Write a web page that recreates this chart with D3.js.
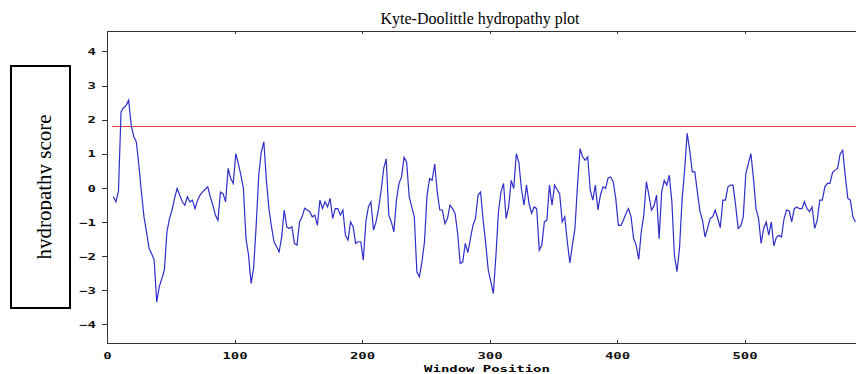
<!DOCTYPE html>
<html>
<head>
<meta charset="utf-8">
<script src="https://cdn.jsdelivr.net/npm/d3@7"></script>
<style>
  body { margin: 0; background: #fff; }
  svg { display: block; }
</style>
</head>
<body>
<div id="chart"></div>
<script>
const title = "Kyte-Doolittle hydropathy plot";
const yLabel = "hydropathy score";
const xLabel = "Window Position";

// one score every positionStep residues, starting at firstPosition
const firstPosition = 5;
const positionStep = 2;
const scores = [
  -0.26, -0.41, -0.1, 2.23, 2.35, 2.42, 2.57, 1.84, 1.5, 1.35,      // 5
  0.66, -0.12, -0.85, -1.29, -1.78, -1.93, -2.12, -3.35, -2.9, -2.66, // 25
  -2.41, -1.29, -0.9, -0.65, -0.31, -0.02, -0.21, -0.41, -0.51, -0.26, // 45
  -0.41, -0.36, -0.61, -0.36, -0.21, -0.12, -0.04, 0.03, -0.26, -0.51, // 65
  -0.8, -0.95, -0.12, -0.17, -0.41, 0.57, 0.27, 0.13, 1.0, 0.71,     // 85
  0.37, -0.02, -1.49, -1.97, -2.8, -2.35, -1.1, 0.37, 1.05, 1.35,    // 105
  0.22, -0.61, -1.14, -1.58, -1.73, -1.88, -1.44, -0.65, -1.15, -1.19, // 125
  -1.14, -1.63, -1.68, -1.0, -0.85, -0.6, -0.65, -0.7, -0.85, -0.8,  // 145
  -1.1, -0.36, -0.61, -0.41, -0.56, -0.31, -0.9, -0.61, -0.61, -0.8, // 165
  -0.65, -1.39, -1.53, -1.0, -1.14, -1.63, -1.58, -1.58, -2.12, -1.0, // 185
  -0.56, -0.41, -1.24, -1.0, -0.61, -0.07, 0.57, 0.85, -0.8, -1.0,   // 205
  -1.29, -0.36, 0.13, 0.32, 0.9, 0.75, -0.26, -0.56, -0.85, -2.46,   // 225
  -2.61, -2.17, -1.58, -0.22, 0.27, 0.22, 0.7, -0.12, -0.65, -0.65,  // 245
  -1.05, -0.9, -0.51, -0.61, -0.75, -1.34, -2.22, -2.17, -1.63, -1.9, // 265
  -1.49, -1.1, -0.9, -0.21, -0.12, -0.95, -1.63, -2.41, -2.75, -3.1, // 285
  -2.0, -0.7, -0.12, 0.13, -0.9, -0.56, 0.22, -0.02, 1.0, 0.75,      // 305
  -0.02, -0.51, 0.08, -0.46, -0.75, -0.56, -0.61, -1.83, -1.68, -1.0, // 325
  -0.95, 0.08, -0.51, 0.08, -0.05, -0.17, -1.0, -0.85, -1.58, -2.2,  // 345
  -1.68, -1.19, 0.08, 1.15, 0.91, 0.81, 0.91, -0.07, -0.36, 0.08,    // 365
  -0.65, -0.21, 0.03, -0.02, 0.29, 0.32, 0.18, -0.31, -1.1, -1.1,    // 385
  -0.95, -0.75, -0.61, -0.85, -1.49, -1.68, -2.1, -1.29, -0.8, 0.18, // 405
  -0.21, -0.65, -0.53, -0.21, -1.49, -0.12, 0.22, 0.08, 0.37, -0.41, // 425
  -1.97, -2.46, -1.78, -0.36, 0.52, 1.6, 1.1, 0.47, 0.47, -0.12,     // 445
  -0.68, -0.95, -1.44, -1.19, -0.9, -0.85, -0.65, -0.9, -1.17, -0.36, // 465
  -0.36, 0.03, 0.08, 0.08, -0.51, -1.19, -1.12, -0.85, 0.42, 0.71,   // 485
  1.0, 0.27, -0.61, -0.9, -1.63, -1.19, -1.0, -1.39, -1.0, -1.7,     // 505
  -1.45, -1.39, -1.44, -0.9, -0.65, -0.68, -1.0, -0.61, -0.56, -0.61, // 525
  -0.61, -0.41, -0.61, -0.7, -0.56, -1.19, -0.95, -0.36, -0.36, 0.03, // 545
  0.13, 0.13, 0.45, 0.52, 0.57, 1.0, 1.1, 0.35, -0.31, -0.36,        // 565
  -0.85, -1.0                                                        // 585
];
const threshold = 1.8;
const xTicks = [0, 100, 200, 300, 400, 500];
const yTicks = [-4, -3, -2, -1, 0, 1, 2, 3, 4];

const width = 856, height = 374;
const svg = d3.select('#chart').append('svg')
    .attr('width', width)
    .attr('height', height);

const x = d3.scaleLinear().domain([0, 590]).range([107, 859.3]);
const y = d3.scaleLinear().domain([-4.55, 4.6]).range([343, 31]);

const pixelFont = 'DejaVu Sans Mono, monospace';
const stretch = 'scale(1.55,1)';

// frame: top border, bottom axis, left axis
svg.append('g')
    .attr('transform', 'translate(0,31)')
    .call(d3.axisTop(x).tickValues(xTicks).tickSizeInner(-3).tickSizeOuter(0).tickFormat(''));

const xAxis = svg.append('g')
    .attr('transform', 'translate(0,343)')
    .call(d3.axisBottom(x).tickValues(xTicks).tickSizeInner(-3).tickSizeOuter(0));
xAxis.selectAll('text')
    .attr('y', 0).attr('dy', 0)
    .attr('transform', 'translate(0,15.5) ' + stretch);

const yAxis = svg.append('g')
    .attr('transform', 'translate(107,0)')
    .call(d3.axisLeft(y).tickValues(yTicks).tickSizeInner(5).tickSizeOuter(0)
        .tickFormat(d => d < 0 ? '\u2212' + Math.abs(d) : d));
yAxis.selectAll('text')
    .attr('x', 0).attr('dy', '0.35em')
    .attr('transform', 'translate(-11,0) ' + stretch);

svg.selectAll('.domain, .tick line')
    .attr('stroke', '#333')
    .attr('shape-rendering', 'crispEdges');
svg.selectAll('.tick text')
    .attr('font-family', pixelFont)
    .attr('font-weight', 'bold')
    .attr('font-size', 9)
    .attr('fill', '#111');

// threshold line
svg.append('line')
    .attr('x1', x(4)).attr('x2', x(590))
    .attr('y1', y(threshold)).attr('y2', y(threshold))
    .attr('stroke', '#e23a3a')
    .attr('stroke-width', 1)
    .attr('shape-rendering', 'crispEdges');

// hydropathy profile
const line = d3.line()
    .x((d, i) => x(firstPosition + i * positionStep))
    .y(d => y(d));
svg.append('path')
    .datum(scores)
    .attr('fill', 'none')
    .attr('stroke', '#2e2ec8')
    .attr('stroke-width', 1.2)
    .attr('d', line);

// titles
svg.append('text')
    .attr('x', 480).attr('y', 24)
    .attr('text-anchor', 'middle')
    .attr('font-family', 'Liberation Serif, Times New Roman, serif')
    .attr('font-size', 16)
    .text(title);

svg.append('text')
    .attr('text-anchor', 'middle')
    .attr('font-family', pixelFont)
    .attr('font-weight', 'bold')
    .attr('font-size', 9)
    .attr('transform', 'translate(487,372) ' + stretch)
    .text(xLabel);

// boxed y label (descenders are cut off in the original)
svg.append('rect')
    .attr('x', 11).attr('y', 66)
    .attr('width', 59).attr('height', 242)
    .attr('fill', '#fff')
    .attr('stroke', '#000')
    .attr('stroke-width', 2);
svg.append('clipPath').attr('id', 'labelClip')
    .append('rect').attr('x', 12).attr('y', 67).attr('width', 40).attr('height', 240);
svg.append('g')
    .attr('clip-path', 'url(#labelClip)')
    .append('text')
    .attr('text-anchor', 'middle')
    .attr('font-family', 'Liberation Serif, Times New Roman, serif')
    .attr('font-size', 21)
    .attr('transform', 'translate(51,187) rotate(-90)')
    .text(yLabel);
</script>
</body>
</html>
